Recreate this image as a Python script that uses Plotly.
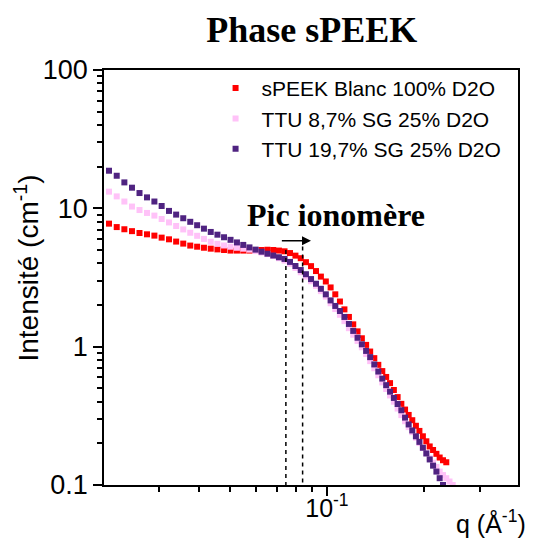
import math
import plotly.graph_objects as go

# q (1/A) grid shared by the three curves
q = [0.02094, 0.02213, 0.02338, 0.02469, 0.02606, 0.02750, 0.02900, 0.03055, 0.03220, 0.03390,
     0.03567, 0.03751, 0.03941, 0.04138, 0.04345, 0.04559, 0.04780, 0.05008, 0.05244, 0.05487,
     0.05736, 0.05993, 0.06257, 0.06527, 0.06804, 0.07088, 0.07378, 0.07674, 0.07979, 0.08288,
     0.08603, 0.08924, 0.09247, 0.09578, 0.09922, 0.1027, 0.1062, 0.1098, 0.1134, 0.1171,
     0.1208, 0.1246, 0.1285, 0.1325, 0.1364, 0.1405, 0.1446, 0.1488, 0.1530, 0.1573,
     0.1617, 0.1661, 0.1706, 0.1752, 0.1798, 0.1845, 0.1894, 0.1942, 0.1991, 0.2041,
     0.2091, 0.2142, 0.2194, 0.2246, 0.2300, 0.2355, 0.2410, 0.2466, 0.2523]

# sPEEK Blanc 100% D2O
i_blanc = [7.75, 7.32, 7.06, 6.84, 6.63, 6.49, 6.35, 6.14, 5.97, 5.75,
           5.56, 5.38, 5.28, 5.19, 5.11, 5.05, 5.00, 4.95, 4.95, 4.95,
           4.95, 4.97, 5.00, 5.02, 5.00, 4.95, 4.89, 4.75, 4.55, 4.36,
           4.08, 3.82, 3.52, 3.21, 2.96, 2.68, 2.39, 2.12, 1.86, 1.64,
           1.45, 1.29, 1.15, 1.03, 0.922, 0.826, 0.739, 0.666, 0.604, 0.545,
           0.486, 0.432, 0.386, 0.351, 0.321, 0.294, 0.268, 0.246, 0.225, 0.207,
           0.190, 0.179, 0.168, 0.158, 0.151, 0.146]

# TTU 8,7% SG 25% D2O
i_ttu87 = [13.2, 12.2, 11.2, 10.3, 9.72, 9.26, 8.86, 8.37, 7.91, 7.45,
           7.04, 6.66, 6.33, 6.01, 5.73, 5.54, 5.39, 5.28, 5.19, 5.11,
           5.03, 4.91, 4.79, 4.67, 4.53, 4.36, 4.19, 3.97, 3.71, 3.45,
           3.21, 2.97, 2.75, 2.52, 2.30, 2.06, 1.87, 1.70, 1.53, 1.36,
           1.22, 1.10, 0.990, 0.884, 0.786, 0.698, 0.621, 0.552, 0.494, 0.444,
           0.400, 0.357, 0.320, 0.289, 0.262, 0.241, 0.220, 0.201, 0.185, 0.170,
           0.156, 0.145, 0.135, 0.125, 0.118, 0.112, 0.106, 0.100, 0.0943]

# TTU 19,7% SG 25% D2O
i_ttu197 = [18.7, 17.2, 15.4, 14.1, 12.9, 12.0, 11.2, 10.4, 9.58, 9.01,
            8.48, 7.99, 7.55, 7.13, 6.75, 6.45, 6.18, 5.92, 5.67, 5.44,
            5.22, 5.03, 4.86, 4.70, 4.56, 4.43, 4.31, 4.10, 3.83, 3.58,
            3.34, 3.08, 2.85, 2.62, 2.39, 2.16, 1.97, 1.81, 1.64, 1.46,
            1.30, 1.16, 1.04, 0.932, 0.840, 0.744, 0.661, 0.588, 0.527, 0.473,
            0.426, 0.385, 0.347, 0.307, 0.274, 0.248, 0.225, 0.205, 0.186, 0.169,
            0.153, 0.138, 0.125, 0.112, 0.100]

noms = ["sPEEK Blanc 100% D2O", "TTU 8,7% SG 25% D2O", "TTU 19,7% SG 25% D2O"]
couleurs = ["#FF0000", "#FFC2F8", "#4F2381"]

# peak position markers (dashed lines) and arrow
q_pic = [0.0745, 0.0840]
i_pic_haut = [5.0, 5.3]
q_fleche = [0.0716, 0.0892]
i_fleche = 5.84

ARIAL = "Arial, Liberation Sans, sans-serif"
TIMES = "Times New Roman, Liberation Serif, serif"

# the page body adds an 8px offset, margins compensate for it
OFF = 8

fig = go.Figure()
for yy, nom, c in zip([i_blanc, i_ttu87, i_ttu197], noms, couleurs):
    fig.add_trace(go.Scatter(
        x=q[:len(yy)], y=yy, mode='markers', name=nom,
        marker=dict(symbol='square', size=6, color=c, line=dict(width=0))
    ))

for qp, ih in zip(q_pic, i_pic_haut):
    fig.add_trace(go.Scatter(
        x=[qp, qp], y=[ih, 0.1], mode='lines', showlegend=False, hoverinfo='skip',
        line=dict(color='black', width=1.5, dash='4px,4px')
    ))

fig.add_annotation(
    x=math.log10(q_fleche[1]), y=math.log10(i_fleche),
    ax=math.log10(q_fleche[0]), ay=math.log10(i_fleche),
    xref='x', yref='y', axref='x', ayref='y',
    text='', showarrow=True, arrowhead=2, arrowsize=1.2, arrowwidth=1.5, arrowcolor='black'
)
fig.add_annotation(
    x=math.log10(0.1065), y=math.log10(9.0), xref='x', yref='y',
    text='<b>Pic ionomère</b>', showarrow=False,
    font=dict(family=TIMES, size=32, color='black')
)
# axis titles
fig.add_annotation(
    x=-0.187, y=0.523, xref='paper', yref='paper', textangle=-90,
    xanchor='center', yanchor='middle',
    text='Intensité (cm<sup>-1</sup>)', showarrow=False,
    font=dict(family=ARIAL, size=28, color='black')
)
fig.add_annotation(
    x=1.025, y=-0.045, xref='paper', yref='paper', xanchor='right', yanchor='top',
    text='q (Å<sup>-1</sup>)', showarrow=False,
    font=dict(family=ARIAL, size=25, color='black')
)

y_minor = [m * 10 ** e for e in (-1, 0, 1) for m in range(2, 10)]
x_minor = [0.03, 0.04, 0.05, 0.06, 0.07, 0.08, 0.09, 0.2, 0.3]

fig.update_xaxes(
    type='log', range=[math.log10(0.0202), math.log10(0.394)],
    tickmode='array', tickvals=[0.1], ticktext=['10<sup>-1</sup>'],
    ticks='outside', ticklen=9, tickwidth=1.5, tickcolor='black', ticklabelstandoff=-9,
    minor=dict(tickmode='array', tickvals=x_minor, ticks='outside', ticklen=5,
               tickwidth=1.5, tickcolor='black', showgrid=False),
    showline=True, linecolor='black', linewidth=1.5, mirror=True,
    showgrid=False, zeroline=False,
    tickfont=dict(family=ARIAL, size=25, color='black')
)
fig.update_yaxes(
    type='log', range=[-1, 2],
    tickmode='array', tickvals=[0.1, 1, 10, 100], ticktext=['0.1', '1', '10', '100'],
    ticks='outside', ticklen=9, tickwidth=1.5, tickcolor='black',
    minor=dict(tickmode='array', tickvals=y_minor, ticks='outside', ticklen=5,
               tickwidth=1.5, tickcolor='black', showgrid=False),
    showline=True, linecolor='black', linewidth=1.5, mirror=True,
    showgrid=False, zeroline=False,
    tickfont=dict(family=ARIAL, size=27, color='black')
)

fig.update_layout(
    width=534, height=538,
    margin=dict(l=104 - OFF, r=16 + OFF, t=70 - OFF, b=53 + OFF),
    paper_bgcolor='white', plot_bgcolor='white',
    title=dict(text='<b>Phase sPEEK</b>', x=0.569, xanchor='center', y=0.961, yanchor='middle',
               font=dict(family=TIMES, size=36, color='black')),
    legend=dict(x=0.255, y=1.005, xanchor='left', yanchor='top', bgcolor='rgba(0,0,0,0)',
                font=dict(family=ARIAL, size=21, color='black'), itemwidth=42,
                tracegroupgap=0),
    showlegend=True
)

fig.write_html("out.html")
